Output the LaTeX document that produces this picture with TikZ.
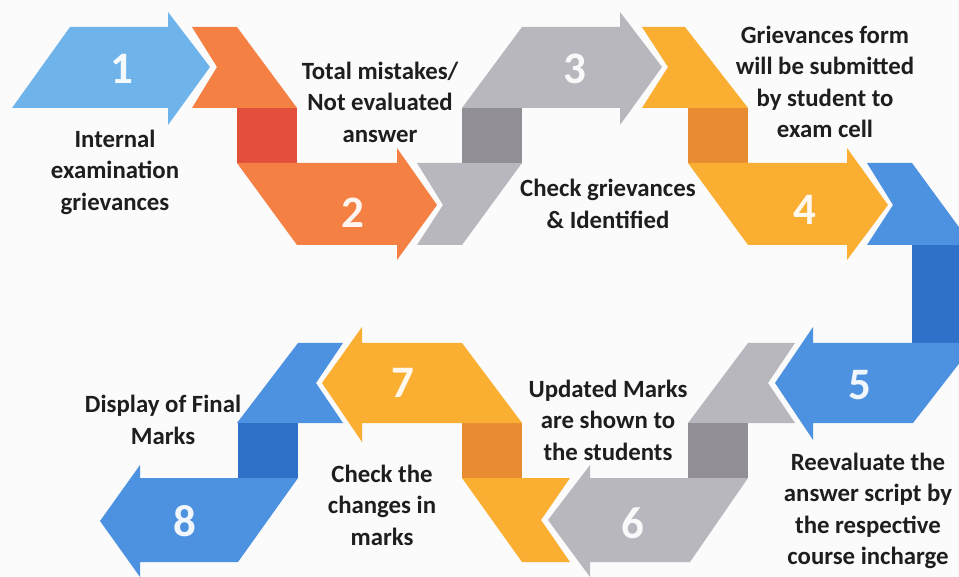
\documentclass[tikz,border=0pt]{standalone}
\usepackage{fontspec}
\setmainfont{Carlito}
\definecolor{lblue}{HTML}{6EB4EB}
\definecolor{orng}{HTML}{F48044}
\definecolor{orngd}{HTML}{E2503C}
\definecolor{gry}{HTML}{B9B7BE}
\definecolor{gryd}{HTML}{918E96}
\definecolor{yel}{HTML}{FAAF32}
\definecolor{yeld}{HTML}{E88C32}
\definecolor{blu}{HTML}{4D91E1}
\definecolor{blud}{HTML}{2F71C8}
\definecolor{txt}{HTML}{1E1E1E}
\tikzset{
  lbl/.style={font=\fontsize{24.8}{31.5}\selectfont\bfseries, text=txt, align=center, inner sep=0pt},
  num/.style={font=\fontsize{45}{45}\selectfont\bfseries, text=white, text opacity=0.92, inner sep=0pt},
}
\begin{document}
\begin{tikzpicture}[x=1pt,y=-1pt]
\useasboundingbox (0,0) rectangle (959,577);
\fill[white!97!gray] (0,0) rectangle (959,577);
\begin{scope}
\clip (0,0) rectangle (959,577);
% 1
\fill[lblue] (12,108) -- (70,27) -- (168,27) -- (168,12) -- (210,67) -- (168,125) -- (168,108) -- cycle;
% 2
\fill[orng] (192,27) -- (237,27) -- (297,108) -- (192,108) -- (217,67) -- cycle;
\fill[orngd] (237,108) rectangle (297,163);
\fill[orng] (237,163) -- (397,163) -- (397,148) -- (437,205) -- (397,260) -- (397,245) -- (297,245) -- cycle;
% 3
\fill[gry] (417,163) -- (522,163) -- (462,245) -- (417,245) -- (443,205) -- cycle;
\fill[gryd] (462,108) rectangle (522,163);
\fill[gry] (462,108) -- (522,27) -- (620,27) -- (620,12) -- (662,67) -- (620,125) -- (620,108) -- cycle;
% 4
\fill[yel] (642,27) -- (685,27) -- (748,108) -- (642,108) -- (668,67) -- cycle;
\fill[yeld] (688,108) rectangle (748,163);
\fill[yel] (688,163) -- (847,163) -- (847,148) -- (888,205) -- (847,260) -- (847,245) -- (748,245) -- cycle;
% 5
\fill[blu] (867,163) -- (912,163) -- (972,245) -- (867,245) -- (893,205) -- cycle;
\fill[blud] (912,245) rectangle (975,343);
\fill[blu] (975,343) -- (913,423) -- (813,423) -- (813,440) -- (775,383) -- (813,327) -- (813,343) -- cycle;
% 6
\fill[gry] (795,343) -- (748,343) -- (688,423) -- (795,423) -- (768,383) -- cycle;
\fill[gryd] (688,423) rectangle (748,478);
\fill[gry] (748,478) -- (690,562) -- (590,562) -- (590,577) -- (548,520) -- (590,465) -- (590,478) -- cycle;
% 7
\fill[yel] (570,478) -- (462,478) -- (522,562) -- (570,562) -- (541,520) -- cycle;
\fill[yeld] (462,423) rectangle (522,478);
\fill[yel] (462,343) -- (522,423) -- (362,423) -- (362,442) -- (322,383) -- (362,327) -- (362,343) -- cycle;
% 8
\fill[blu] (343,343) -- (298,343) -- (237,423) -- (343,423) -- (316,383) -- cycle;
\fill[blud] (238,423) rectangle (298,478);
\fill[blu] (298,478) -- (238,562) -- (140,562) -- (140,577) -- (100,521) -- (140,465) -- (140,478) -- cycle;
\end{scope}
% numbers
\node[num] (n1) at (122,69) {1};
\node[num] (n2) at (353,213) {2};
\node[num] (n3) at (575,69) {3};
\node[num] (n4) at (805,210) {4};
\node[num] (n5) at (860,385) {5};
\node[num] (n6) at (633,523) {6};
\node[num] (n7) at (403,383) {7};
\node[num] (n8) at (185,521) {8};
% labels
\node[lbl] (t1) at (115,172) {Internal\\examination\\grievances};
\node[lbl] (t2) at (380,102) {Total mistakes/\\Not evaluated\\answer};
\node[lbl] (t3) at (608,204) {Check grievances\\\& Identified};
\node[lbl] (t4) at (825,82) {Grievances form\\will be submitted\\by student to\\exam cell};
\node[lbl] (t5) at (868,511) {Reevaluate the\\answer script by\\the respective\\course incharge};
\node[lbl] (t6) at (608,420) {Updated Marks\\are shown to\\the students};
\node[lbl] (t7) at (382,505) {Check the\\changes in\\marks};
\node[lbl] (t8) at (163,420) {Display of Final\\Marks};
\end{tikzpicture}
\end{document}
